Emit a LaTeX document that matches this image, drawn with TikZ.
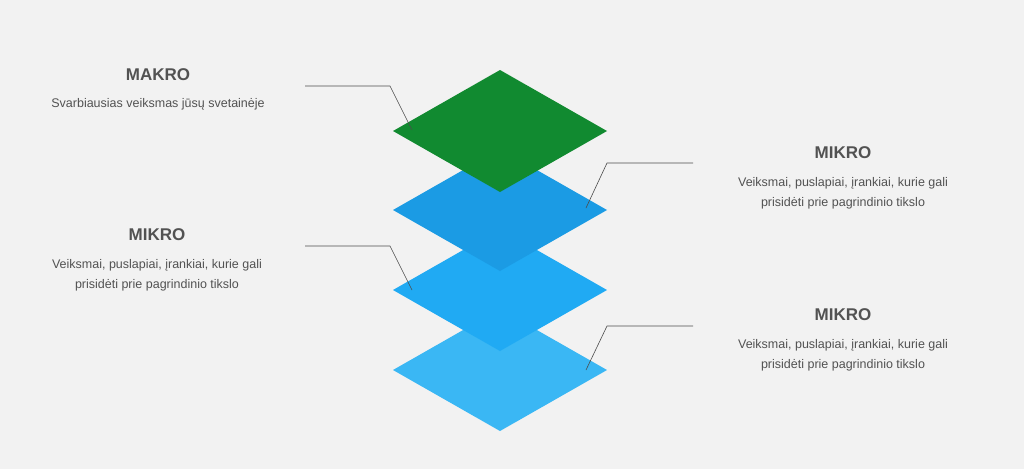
\documentclass[tikz,border=0pt]{standalone}
\usepackage{fontspec}
\setmainfont{Liberation Sans}
\begin{document}
\begin{tikzpicture}[x=1pt,y=-1pt,
  dia/.style={fill=#1,draw=none},
  lead/.style={draw=black!70,line width=0.6pt},
  ttl/.style={font=\fontsize{17}{20}\selectfont\bfseries,text=black!68},
  txt/.style={font=\fontsize{12.5}{20}\selectfont,text=black!68,align=center}]
\fill[black!5] (0,0) rectangle (1024,469);
\useasboundingbox (0,0) rectangle (1024,469);
\foreach \n/\c/\col in {d4/370/3AB7F4,d3/290/20AAF3,d2/210/1B9BE4,d1/131/118A30}{
  \definecolor{cc}{HTML}{\col}
  \fill[cc] (500,\c-61) -- (607,\c) -- (500,\c+61) -- (393,\c) -- cycle;
}
\coordinate (a1) at (305,86); \coordinate (a2) at (390,86); \coordinate (a3) at (412,130);
\coordinate (b1) at (305,246); \coordinate (b2) at (390,246); \coordinate (b3) at (412,290);
\coordinate (c1) at (693,163); \coordinate (c2) at (607,163); \coordinate (c3) at (586,208);
\coordinate (e1) at (693,326); \coordinate (e2) at (607,326); \coordinate (e3) at (586,370);
\draw[lead] (a1) -- (a2) -- (a3);
\draw[lead] (b1) -- (b2) -- (b3);
\draw[lead] (c1) -- (c2) -- (c3);
\draw[lead] (e1) -- (e2) -- (e3);
\node[ttl] (t1) at (158,75) {MAKRO};
\node[txt] (s1) at (158,104) {Svarbiausias veiksmas jūsų svetainėje};
\node[ttl] (t2) at (157,235) {MIKRO};
\node[txt] (s2) at (157,275) {Veiksmai, puslapiai, įrankiai, kurie gali\\prisidėti prie pagrindinio tikslo};
\node[ttl] (t3) at (843,153) {MIKRO};
\node[txt] (s3) at (843,193) {Veiksmai, puslapiai, įrankiai, kurie gali\\prisidėti prie pagrindinio tikslo};
\node[ttl] (t4) at (843,315) {MIKRO};
\node[txt] (s4) at (843,355) {Veiksmai, puslapiai, įrankiai, kurie gali\\prisidėti prie pagrindinio tikslo};
\end{tikzpicture}
\end{document}
